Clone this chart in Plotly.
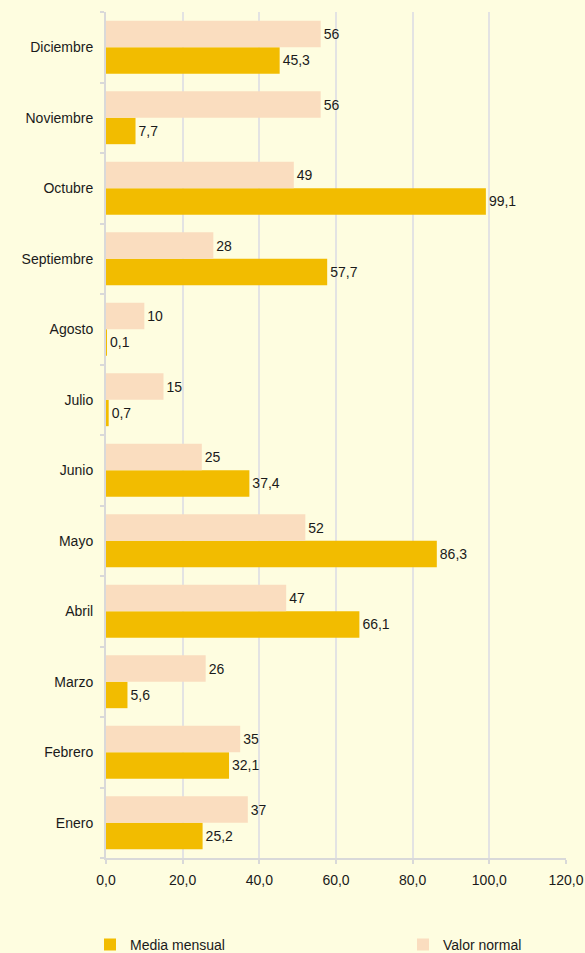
import plotly.graph_objects as go

months = ["Enero", "Febrero", "Marzo", "Abril", "Mayo", "Junio", "Julio",
          "Agosto", "Septiembre", "Octubre", "Noviembre", "Diciembre"]
media_mensual = [25.2, 32.1, 5.6, 66.1, 86.3, 37.4, 0.7, 0.1, 57.7, 99.1, 7.7, 45.3]
valor_normal = [37, 35, 26, 47, 52, 25, 15, 10, 28, 49, 56, 56]
x_ticks = [0, 20, 40, 60, 80, 100, 120]

BG = "#FEFDE0"
FONT = "Liberation Sans, Arial, sans-serif"
TXT = "#1a1a1a"

fig = go.Figure()
fig.add_trace(go.Bar(
    y=months, x=media_mensual, orientation="h", name="Media mensual",
    marker=dict(color="#F2BC00", line=dict(width=0)),
    texttemplate="%{x:.1f}", textposition="outside",
    textfont=dict(size=14, color=TXT, family=FONT), cliponaxis=False,
    legend="legend",
))
fig.add_trace(go.Bar(
    y=months, x=valor_normal, orientation="h", name="Valor normal",
    marker=dict(color="#FADDBF", line=dict(width=0)),
    texttemplate="%{x:.0f}", textposition="outside",
    textfont=dict(size=14, color=TXT, family=FONT), cliponaxis=False,
    legend="legend2",
))

legend_common = dict(orientation="h", xref="container", yref="container",
                     xanchor="left", yanchor="middle", y=0.0085,
                     itemwidth=30, bgcolor="rgba(0,0,0,0)",
                     font=dict(size=14, family=FONT, color=TXT))

fig.update_layout(
    width=585, height=953,
    paper_bgcolor=BG, plot_bgcolor=BG,
    separators=",.",
    barmode="group", bargap=0.25, bargroupgap=0,
    margin=dict(l=106, r=19, t=12, b=95, autoexpand=False),
    font=dict(family=FONT, size=14, color=TXT),
    showlegend=True,
    legend=dict(x=90 / 585, **legend_common),
    legend2=dict(x=403 / 585, **legend_common),
    xaxis=dict(range=[0, 120], tickvals=x_ticks, tickformat=".1f",
               automargin=False, ticklabelstandoff=4,
               showgrid=True, gridcolor="#E3E3E3", gridwidth=2,
               showline=True, linecolor="#D9D9D9", linewidth=2,
               ticks="outside", ticklen=4, tickcolor="#D9D9D9", tickwidth=2,
               zeroline=False, tickfont=dict(size=14)),
    yaxis=dict(type="category", showgrid=False, automargin=False,
               ticklabelstandoff=8,
               showline=True, linecolor="#D9D9D9", linewidth=2,
               ticks="outside", tickson="boundaries", ticklen=4,
               tickcolor="#D9D9D9", tickwidth=2,
               tickfont=dict(size=14)),
)

fig.write_html("out.html", config={"displayModeBar": False},
               post_script="document.body.style.margin='0';")
